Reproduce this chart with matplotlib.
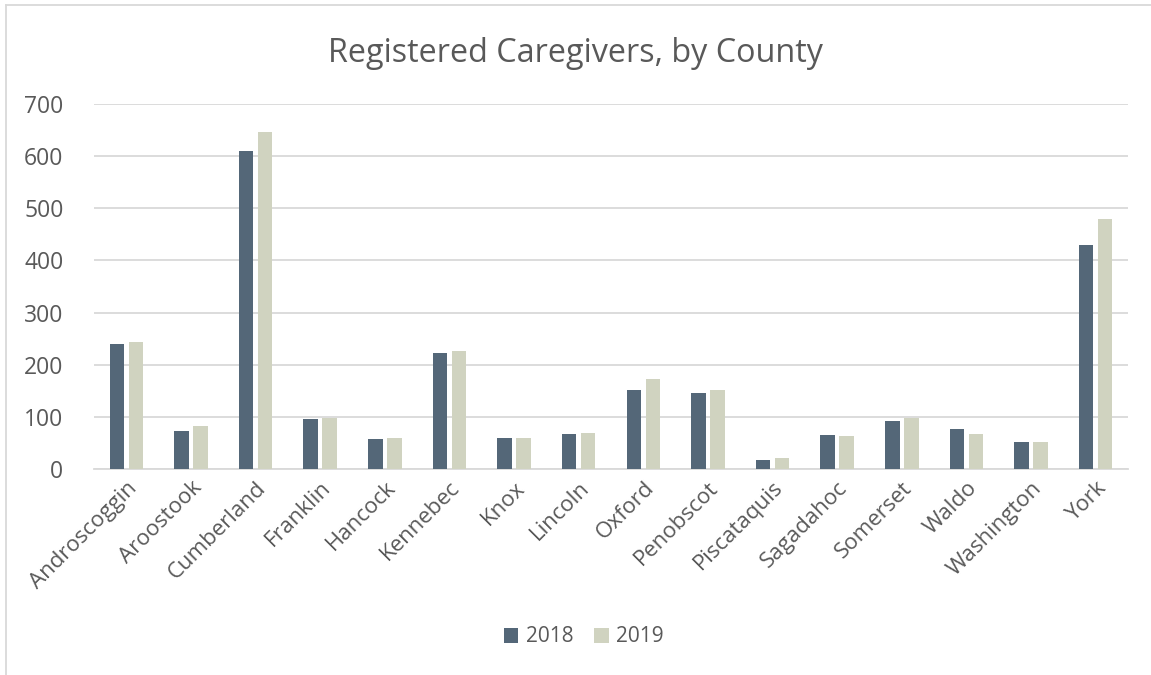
import matplotlib.pyplot as plt
import numpy as np
from matplotlib.lines import Line2D

counties = ["Androscoggin", "Aroostook", "Cumberland", "Franklin", "Hancock",
            "Kennebec", "Knox", "Lincoln", "Oxford", "Penobscot", "Piscataquis",
            "Sagadahoc", "Somerset", "Waldo", "Washington", "York"]
y2018 = [240, 73, 609, 96, 57, 222, 60, 68, 151, 145, 17, 65, 92, 77, 52, 429]
y2019 = [244, 83, 646, 97, 59, 226, 60, 69, 172, 151, 21, 64, 97, 67, 51, 479]

c18 = "#546778"
c19 = "#d0d3c0"
txt = "#595959"

plt.rcParams['font.family'] = ['Open Sans', 'DejaVu Sans']

fig = plt.figure(figsize=(11.51, 6.75), dpi=100)
ax = fig.add_axes([94/1151, 1 - 469/675, (1128-94)/1151, (469-104)/675])

x = np.arange(len(counties))
w = 0.225
off = 0.147
ax.bar(x - off, y2018, w, color=c18, label="2018", zorder=3)
ax.bar(x + off, y2019, w, color=c19, label="2019", zorder=3)

ax.set_xlim(-0.5, len(counties) - 0.5)
ax.set_ylim(0, 700)
ax.set_yticks(range(0, 701, 100))
ax.yaxis.grid(True, color="#d9d9d9", linewidth=1.3, zorder=0)
for s in ["top", "right", "left"]:
    ax.spines[s].set_visible(False)
ax.spines["bottom"].set_color("#d9d9d9")
ax.spines["bottom"].set_linewidth(1.3)
ax.tick_params(axis="both", length=0, labelsize=16.5, colors=txt)
ax.tick_params(axis="y", pad=22)
ax.tick_params(axis="x", pad=6)
ax.set_xticks(x)
ax.set_xticklabels(counties, rotation=45, ha="right", rotation_mode="anchor", fontsize=16)

fig.text(0.5, 1 - 53/675, "Registered Caregivers, by County", ha="center", va="center",
         fontsize=23.3, color=txt)

ax.legend(loc="center", bbox_to_anchor=(0.507, 1 - 637/675), bbox_transform=fig.transFigure,
          ncol=2, frameon=False, fontsize=15, labelcolor=txt,
          handlelength=0.7, handleheight=0.7, handletextpad=0.35, columnspacing=1.0)

# chart border
fig.add_artist(Line2D([6/1151, 6/1151], [0, 1 - 5/675], color="#d9d9d9", lw=1.3, transform=fig.transFigure))
fig.add_artist(Line2D([6/1151, 1], [1 - 5/675, 1 - 5/675], color="#d9d9d9", lw=1.3, transform=fig.transFigure))

fig.savefig("out.png", dpi=100)
